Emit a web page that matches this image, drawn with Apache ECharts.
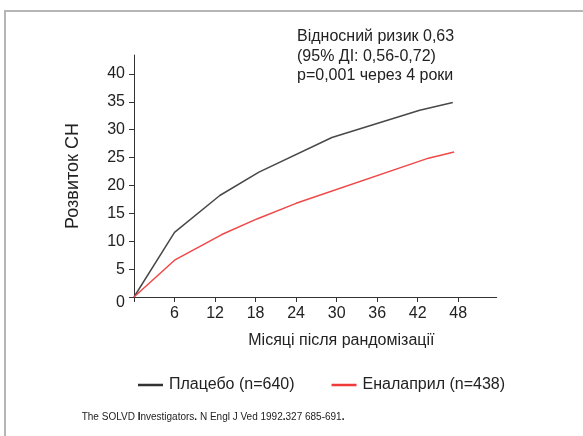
<!DOCTYPE html>
<html>
<head>
<meta charset="utf-8">
<script src="https://cdn.jsdelivr.net/npm/echarts@6/dist/echarts.min.js"></script>
<style>html,body{margin:0;padding:0;background:#fff}#c{width:583px;height:436px}</style>
</head>
<body>
<div id="c"></div>
<script>
const FONT = '"Liberation Sans", Arial, sans-serif';
const xTicks = [0, 6, 12, 18, 24, 30, 36, 42, 48];
const xLabels = [6, 12, 18, 24, 30, 36, 42, 48];
const yTicks = [0, 5, 10, 15, 20, 25, 30, 35, 40];
const placeboMonths = [0, 6, 12.7, 18.5, 29.3, 42.3, 47.2];
const placeboValues = [0, 11.6, 18.2, 22.4, 28.6, 33.5, 34.9];
const enalaprilMonths = [0, 6, 13, 18.2, 24, 43.6, 47.4];
const enalaprilValues = [0, 6.6, 11.2, 14.0, 16.8, 24.9, 26.0];
const seriesNames = ['Плацебо (n=640)', 'Еналаприл (n=438)'];
const xName = 'Місяці після рандомізації';
const yName = 'Розвиток СН';
const noteLines = ['Відносний ризик 0,63', '(95% ДІ: 0,56-0,72)', 'p=0,001 через 4 роки'];

const chart = echarts.init(document.getElementById('c'), null, {renderer: 'canvas'});
const pairs = (xs, ys) => xs.map((x, i) => [x, ys[i]]);
chart.setOption({
  animation: false,
  backgroundColor: '#fff',
  grid: {left: 134, right: 86.3, top: 55, bottom: 139},
  xAxis: {
    type: 'value', min: 0, max: 53.7,
    name: xName, nameLocation: 'middle', nameGap: 36,
    nameTextStyle: {fontFamily: FONT, fontSize: 16, color: '#222', padding: [0, 0, 0, 52]},
    axisLine: {lineStyle: {color: '#333', width: 1}},
    axisTick: {show: true, length: 5, customValues: xTicks, lineStyle: {color: '#333'}},
    axisLabel: {customValues: xLabels, fontFamily: FONT, fontSize: 16, color: '#222', margin: 9},
    splitLine: {show: false}
  },
  yAxis: {
    type: 'value', min: 0, max: 43.4,
    name: yName, nameLocation: 'middle', nameGap: 52,
    nameTextStyle: {fontFamily: FONT, fontSize: 18, color: '#222'},
    axisLine: {show: true, lineStyle: {color: '#333', width: 1}},
    axisTick: {show: true, length: 5, customValues: yTicks, lineStyle: {color: '#333'}},
    axisLabel: {
      customValues: yTicks, fontFamily: FONT, fontSize: 16, color: '#222', margin: 9,
      formatter: v => (v === 0 ? '{z|0}' : String(v)),
      rich: {z: {fontFamily: FONT, fontSize: 16, color: '#222', padding: [12, 0, 0, 0]}}
    },
    splitLine: {show: false}
  },
  legend: {
    left: 133, top: 372, itemWidth: 25, itemHeight: 2.5, itemGap: 37, icon: 'rect',
    textStyle: {fontFamily: FONT, fontSize: 16, color: '#222', padding: [0, 0, 0, 1]},
    data: seriesNames
  },
  series: [
    {name: seriesNames[0], type: 'line', data: pairs(placeboMonths, placeboValues), showSymbol: false,
     lineStyle: {color: '#484848', width: 1.5}, itemStyle: {color: '#333'}},
    {name: seriesNames[1], type: 'line', data: pairs(enalaprilMonths, enalaprilValues), showSymbol: false,
     lineStyle: {color: '#f04848', width: 1.5}, itemStyle: {color: '#f03a3a'}}
  ],
  graphic: [
    {type: 'polyline', shape: {points: [[5, 436], [5, 11], [583, 11]]}, style: {stroke: '#b5b5b5', lineWidth: 2, fill: null}},
    {type: 'text', left: 297, top: 27, style: {text: noteLines.join('\n'), font: '16px ' + FONT, fill: '#222', lineHeight: 19.5}},
    {type: 'text', left: 81.7, top: 412, style: {
      text: 'The SOLVD {b|I}nvestigators{b|.} N Engl J Ved 1992{b|.}327 685-691{b|.}',
      font: '10px ' + FONT, fill: '#222',
      rich: {b: {fontWeight: 'bold', fontSize: 10, fontFamily: FONT, fill: '#111'}}
    }}
  ]
});
</script>
</body>
</html>
